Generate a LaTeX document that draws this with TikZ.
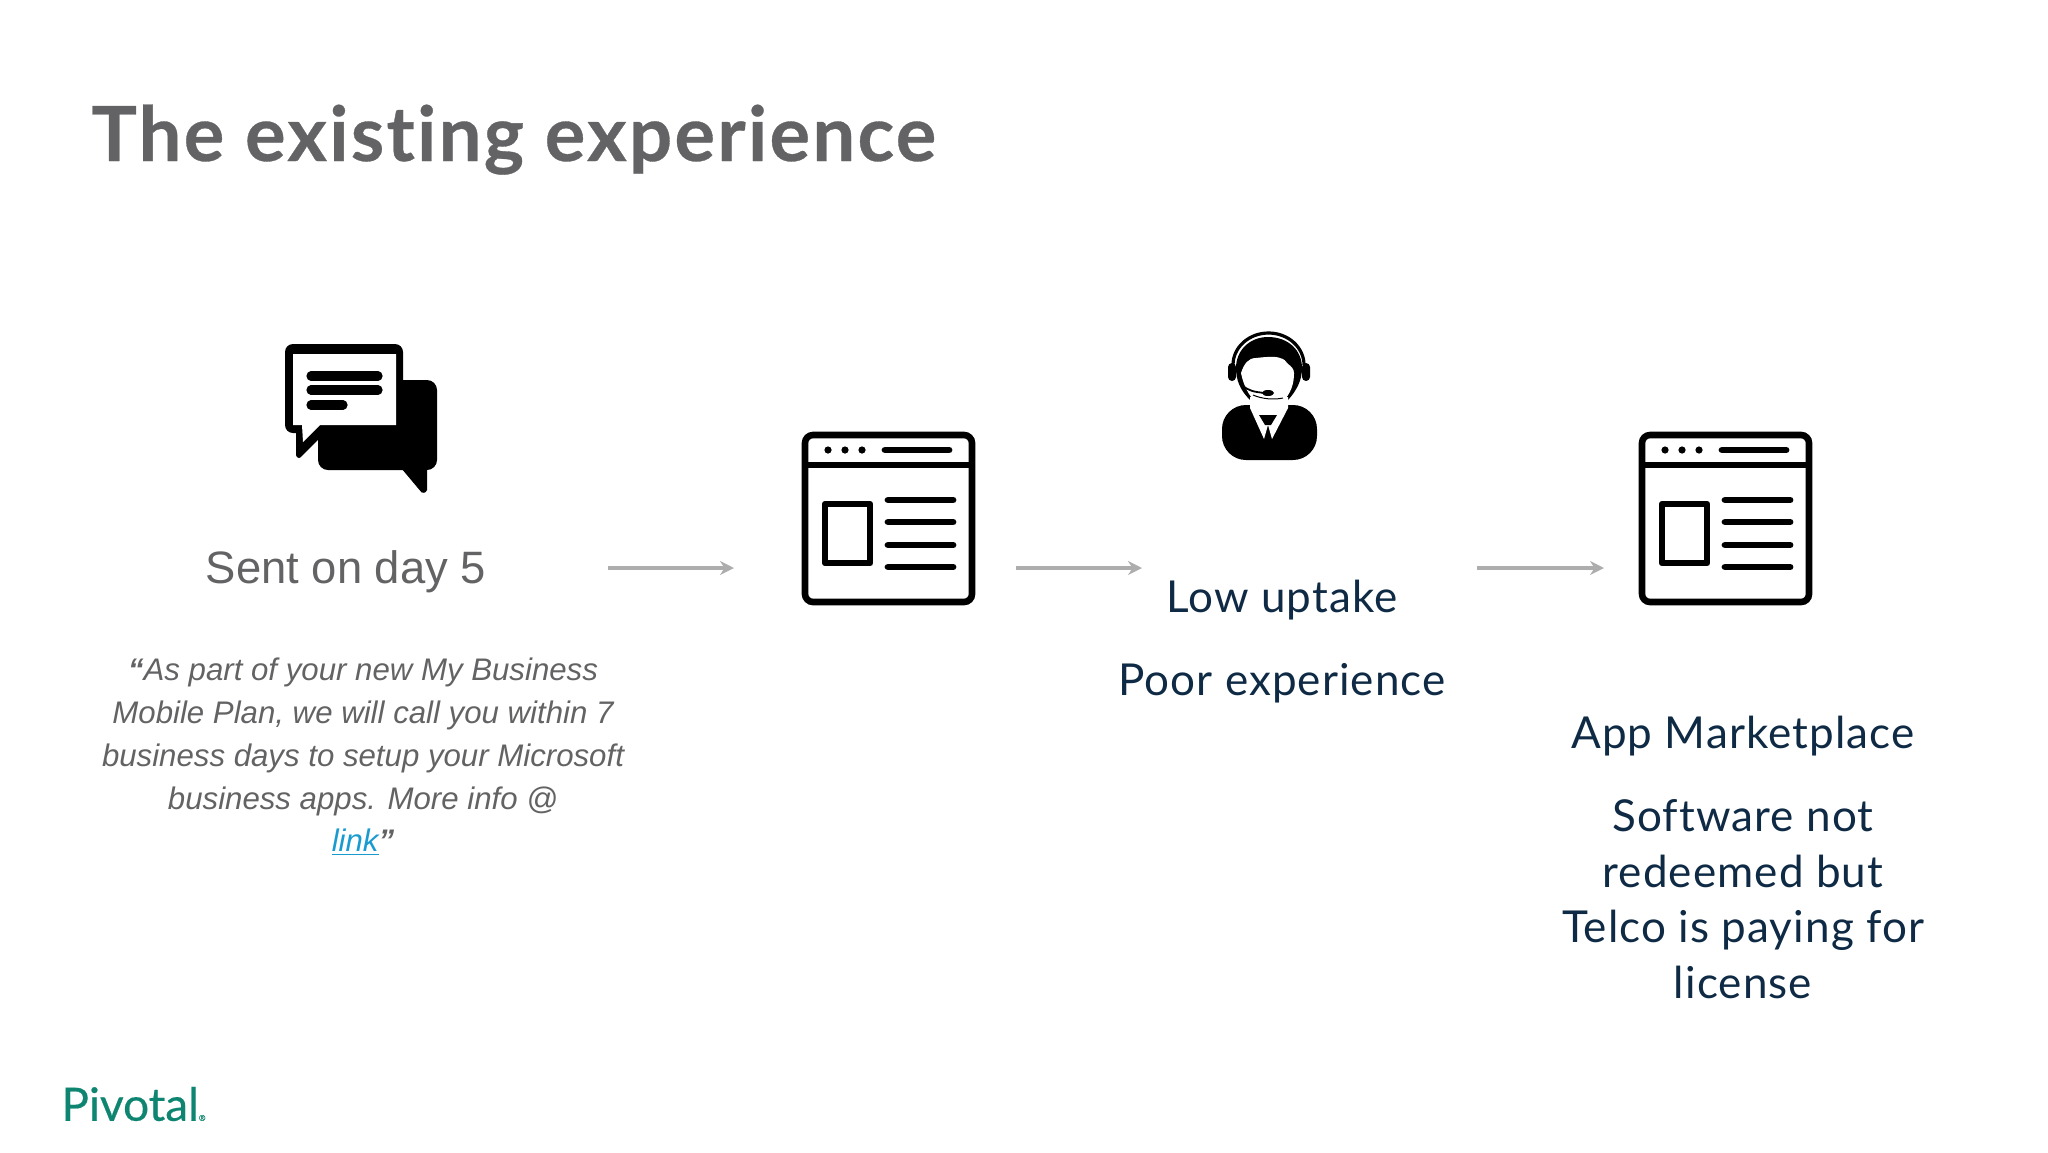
\documentclass[tikz,border=0pt]{standalone}
\usepackage{fontspec}
\setmainfont{Liberation Sans}
\newfontfamily\titlefont{Lato}[LetterSpace=3,Ligatures=NoCommon,BoldFeatures={FakeBold=0.4}]
\newfontfamily\headfont{Lato}[LetterSpace=2.5,Ligatures=NoCommon]
\newfontfamily\logofont{Lato}[FakeBold=0.4]
\usetikzlibrary{arrows.meta}
\definecolor{slidegrey}{HTML}{636365}
\definecolor{navytext}{HTML}{0F2A44}
\definecolor{linkblue}{HTML}{1A9BD0}
\definecolor{pivgreen}{HTML}{0E8570}
\tikzset{
	flowarrow/.style={draw=black!32,line width=1.6pt,-{Stealth[length=7pt,width=7pt]}},
	navylabel/.style={text=navytext,font=\headfont\fontsize{22}{27.8}\selectfont,align=center},
	iconline/.style={line width=3.4pt,line cap=round},
	pics/browserwin/.style={code={
		\draw[line width=3.3pt,rounded corners=4pt] (3,3) rectangle (170,170);
		\draw[line width=3.3pt] (3,33) -- (170,33);
		\foreach \dotx in {26,43,60}
			\fill (\dotx,18) circle (1.8pt);
		\draw[iconline] (83,18) -- (147,18);
		\draw[line width=3.3pt,line join=round] (23,72) rectangle (68,131);
		\foreach \liney in {68,90,113,135}
			\draw[iconline] (86,\liney) -- (151,\liney);
	}}
}
\begin{document}
\begin{tikzpicture}[x=0.5pt,y=-0.5pt]
	\useasboundingbox (0,0) rectangle (2048,1152);

	\node (title) at (91,161)[anchor=base west,inner sep=0pt,text=slidegrey,font=\titlefont\bfseries\fontsize{38}{38}\selectfont]{The existing experience};

	% chat bubbles
	\fill[rounded corners=5pt] (318,380) rectangle (437,470);
	\filldraw[line width=2pt,line join=round] (402,466) -- (425,466) -- (425,490) -- (423,491) -- cycle;
	\fill[rounded corners=4pt] (285,344) rectangle (403,433);
	\filldraw[line width=2pt,line join=round] (298,430) -- (298,455) -- (299,456) -- (318,437) -- (318,430) -- cycle;
	\fill[white] (293,354) -- (396,354) -- (396,425) -- (320,425) -- (303,442) -- (302,425) -- (293,425) -- cycle;
	\draw[line width=4.6pt,line cap=round] (311,376) -- (378,376);
	\draw[line width=4.6pt,line cap=round] (311,390) -- (378,390);
	\draw[line width=4.6pt,line cap=round] (311,405) -- (343,405);

	\node (sent) at (346,572)[text=slidegrey,font=\fontsize{22.7}{27}\selectfont]{Sent on day 5};
	\node (quote) at (363,757)[text=slidegrey,align=center,font=\itshape\fontsize{15.6}{21.4}\selectfont]{%
		\textbf{“}As part of your new My Business\\
		Mobile Plan, we will call you within 7\\
		business days to setup your Microsoft\\
		business apps. More info @\\
		\textcolor{linkblue}{\underline{link}}\textbf{”}};

	% windows
	\pic at (802,432) {browserwin};
	\pic at (1639,432) {browserwin};

	% agent
	\fill[rounded corners=12pt] (1222,460) -- (1222,405) -- (1317,405) -- (1317,460) -- cycle;
	\draw[line width=1.6pt] (1233,365) arc[start angle=180,end angle=360,x radius=35.5,y radius=32];
	\fill[rounded corners=2pt] (1228,363) rectangle (1236,381);
	\fill[rounded corners=2pt] (1302,363) rectangle (1310,381);
	\fill (1250,400) .. controls (1240,390) and (1236,380) .. (1236,368) .. controls (1236,350) and (1250,337) .. (1268,337) .. controls (1288,337) and (1302,350) .. (1302,368) .. controls (1302,380) and (1297,390) .. (1288,400) -- cycle;
	\fill[white] (1241,373) .. controls (1244,364) and (1248,358) .. (1256,358) .. controls (1264,357) and (1276,356) .. (1280,358) .. controls (1284,359) and (1286,361) .. (1288,364) .. controls (1291,366) and (1294,369) .. (1294,373) .. controls (1294,382) and (1292,390) .. (1286,398) -- (1252,398) .. controls (1247,392) and (1243,383) .. (1241,373) -- cycle;
	\fill[white] (1250,397) -- (1288,397) -- (1288,408) -- (1272,439) -- (1268,425) -- (1264,439) -- (1250,408) -- cycle;
	\fill (1259,415) -- (1277,415) -- (1271,425) -- (1265,425) -- cycle;
	\draw[line width=0.5pt] (1253,395) .. controls (1262,399) and (1274,400) .. (1283,398);
	\draw[line width=0.9pt] (1242,385) .. controls (1248,391) and (1255,392) .. (1265,393);
	\fill (1268,393) ellipse (6 and 3);

	\node (uptake) at (1282,600)[navylabel]{Low uptake};
	\node (poorexp) at (1282,683)[navylabel]{Poor experience};
	\node (market) at (1743,736)[navylabel]{App Marketplace};
	\node (redeem) at (1743,899)[navylabel]{Software not\\redeemed but\\Telco is paying for\\license};

	% arrows
	\coordinate (arrowa) at (608,568);
	\coordinate (arrowb) at (734,568);
	\coordinate (arrowc) at (1016,568);
	\coordinate (arrowd) at (1142,568);
	\coordinate (arrowe) at (1477,568);
	\coordinate (arrowf) at (1604,568);
	\draw[flowarrow] (arrowa) -- (arrowb);
	\draw[flowarrow] (arrowc) -- (arrowd);
	\draw[flowarrow] (arrowe) -- (arrowf);

	\node (logo) at (61,1104)[anchor=west,inner sep=0pt,text=pivgreen,font=\logofont\fontsize{23}{23}\selectfont]{Pivotal{\fontsize{4}{4}\selectfont ®}};
\end{tikzpicture}
\end{document}
